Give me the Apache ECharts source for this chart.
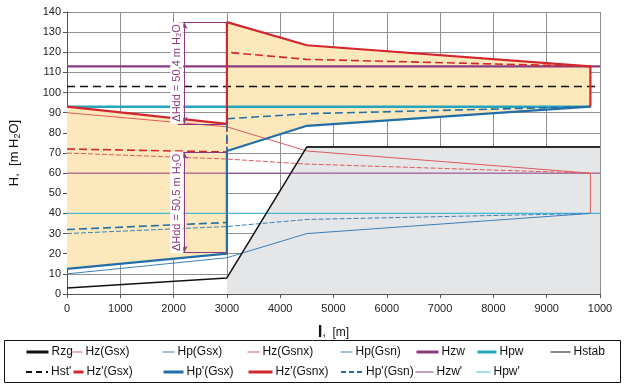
<!DOCTYPE html>
<html>
<head>
<meta charset="utf-8">
<script src="https://cdn.jsdelivr.net/npm/echarts@6/dist/echarts.min.js"></script>
<style>
  html, body { margin: 0; padding: 0; background: #fff; }
  #chart { width: 626px; height: 387px; }
</style>
</head>
<body>
<div id="chart"></div>
<script>
// axis ticks (the last x label is cut in the source picture)
const xTickLabels = ['0', '1000', '2000', '3000', '4000', '5000', '6000', '7000', '8000', '9000', '1000'];
const yTickLabels = ['0', '10', '20', '30', '40', '50', '60', '70', '80', '90', '100', '110', '120', '130', '140'];

// terrain
const rzgX = [0, 3000, 4500, 10000];
const rzgY = [3, 8, 73, 73];
const hstabX = [4500, 10000];
const hstabY = [73, 73];

// heads, primed (thick) lines
const hzGsxPX = [0, 3000, 3000, 4500, 9820, 9820];
const hzGsxPY = [93, 84.5, 135, 123.5, 113, 93];
const hpGsxPX = [0, 3000, 3000, 4500, 9820];
const hpGsxPY = [12.5, 20, 71, 83.5, 93];
const hzGsnxPX = [0, 3000, 3000, 4500, 9820];
const hzGsnxPY = [72, 70.5, 120, 116.5, 113];
const hpGsnPX = [0, 3000, 3000, 4500, 9820];
const hpGsnPY = [32, 35.5, 87, 89.5, 93];

// heads, thin lines
const hzGsxX = [0, 3000, 4500, 9820, 9820];
const hzGsxY = [90, 83, 71, 60, 40];
const hzGsnxX = [0, 3000, 4500, 9820];
const hzGsnxY = [70, 67, 64.5, 60];
const hpGsxX = [0, 3000, 4500, 9820];
const hpGsxY = [10, 18, 30, 40];
const hpGsnX = [0, 3000, 4500, 9820];
const hpGsnY = [30, 33.5, 37, 40];

// horizontal levels
const hzwX = [0, 10000], hzwY = [113, 113];
const hzwPX = [0, 10000], hzwPY = [60, 60];
const hpwX = [0, 9820], hpwY = [93, 93];
const hpwPX = [0, 10000], hpwPY = [40, 40];
const hstPX = [0, 10000], hstPY = [103, 103];

// pressure difference marks
const annX = 2200;
const annFromX = 2080;
const annUpper = [84.5, 135];
const annLower = [20.5, 70.5];
const annLabels = ['ΔHdd = 50,4 m H₂O', 'ΔHdd = 50,5 m H₂O'];

const font = 'Liberation Sans, Arial, sans-serif';
const pts = (xs, ys) => xs.map((x, i) => [x, ys[i]]);

const RED = '#d3262f', RED_T = '#dd5a5e', BLUE = '#226ea8', BLUE_T = '#3d7fba';
const PURPLE = '#8b3a80', CYAN = '#25a5bd', CYAN_T = '#45b8d4';

function line(name, xs, ys, color, width, type, z) {
  return {
    type: 'line', name, data: pts(xs, ys), symbol: 'none', z: z || 3,
    lineStyle: { color, width, type: type || 'solid' }, itemStyle: { color },
    silent: true
  };
}

const annLabel = txt => ({
  show: true, position: 'middle', formatter: txt, color: PURPLE, fontFamily: font,
  fontSize: 11, backgroundColor: '#fff', padding: [1, 2], distance: 1
});

const annotSeries = line('annot', [], [], PURPLE, 1);
annotSeries.markLine = {
  silent: true, symbol: 'none', animation: false,
  lineStyle: { color: PURPLE, width: 1, type: 'solid' },
  label: { show: false },
  data: [
    [{ coord: [annFromX, annUpper[1]] }, { coord: [3000, annUpper[1]] }],
    [{ coord: [annFromX, annUpper[0]] }, { coord: [3000, annUpper[0]] }],
    [{ coord: [annFromX, annLower[1]] }, { coord: [3000, annLower[1]] }],
    [{ coord: [annFromX, annLower[0]] }, { coord: [3000, annLower[0]] }],
    [{ coord: [annX, annUpper[0]], symbol: 'arrow' }, { coord: [annX, annUpper[1]], symbol: 'arrow', label: annLabel(annLabels[0]) }],
    [{ coord: [annX, annLower[0]], symbol: 'arrow' }, { coord: [annX, annLower[1]], symbol: 'arrow', label: annLabel(annLabels[1]) }]
  ],
  symbolSize: [5, 7]
};

const series = [
  {
    type: 'line', name: 'ground', data: pts(rzgX.slice(1), rzgY.slice(1)), symbol: 'none', z: 0,
    lineStyle: { width: 0 }, areaStyle: { color: '#e5e6e8', opacity: 1 }, silent: true
  },
  {
    type: 'custom', name: 'band', data: [[0, 0]], z: 1, silent: true,
    renderItem(params, api) {
      const up = pts(hzGsxPX, hzGsxPY).map(p => api.coord(p));
      const lo = pts(hpGsxPX, hpGsxPY).reverse().map(p => api.coord(p));
      return { type: 'polygon', shape: { points: up.concat(lo) }, style: { fill: '#fde8bb' } };
    }
  },
  line('Hzw\'', hzwPX, hzwPY, PURPLE, 1),
  line('Hpw\'', hpwPX, hpwPY, CYAN_T, 1.2),
  line('Hz(Gsnx)', hzGsnxX, hzGsnxY, RED_T, 1, [5, 2]),
  line('Hp(Gsn)', hpGsnX, hpGsnY, BLUE_T, 1, [5, 2]),
  line('Hz(Gsx)', hzGsxX, hzGsxY, RED_T, 1),
  line('Hp(Gsx)', hpGsxX, hpGsxY, BLUE_T, 1),
  line('Hzw', hzwX, hzwY, PURPLE, 2.2),
  line('Hpw', hpwX, hpwY, CYAN, 2.5),
  line('Hst\'', hstPX, hstPY, '#111', 1.5, [8, 5]),
  line('Hz\'(Gsnx)', hzGsnxPX, hzGsnxPY, RED, 1.6, [8, 4]),
  line('Hp\'(Gsn)', hpGsnPX, hpGsnPY, BLUE, 1.6, [8, 4]),
  line('Hp\'(Gsx)', hpGsxPX, hpGsxPY, BLUE, 2.2),
  line('Hz\'(Gsx)', hzGsxPX, hzGsxPY, RED, 2.2),
  line('Hstab', hstabX, hstabY, '#111', 1),
  line('Rzg', rzgX, rzgY, '#111', 1.5, 'solid', 4),
  annotSeries
];

// legend placement: [name, iconLeft, row, iconWidth, iconLineWidth, iconType]
const legendLayout = [
  ['Rzg', 25, 0, 22, 3, 'solid'], ['Hz(Gsx)', 72, 0, 10, 1, 'solid'], ['Hp(Gsx)', 162, 0, 12, 1, 'solid'],
  ['Hz(Gsnx)', 247, 0, 12, 1, 'solid'], ['Hp(Gsn)', 340, 0, 12, 1, 'solid'], ['Hzw', 415, 0, 22, 3, 'solid'],
  ['Hpw', 476, 0, 19, 3, 'solid'], ['Hstab', 550, 0, 20, 1, 'solid'],
  ['Hst\'', 25, 1, 22, 2, [6, 4]], ['Hz\'(Gsx)', 72, 1, 10, 3, 'solid'], ['Hp\'(Gsx)', 162, 1, 20, 3, 'solid'],
  ['Hz\'(Gsnx)', 247, 1, 24, 3, 'solid'], ['Hp\'(Gsn)', 340, 1, 22, 2, [5, 3]], ['Hzw\'', 415, 1, 18, 1, 'solid'],
  ['Hpw\'', 476, 1, 14, 1, 'solid']
];
const legends = legendLayout.map(([name, left, row, w, lw, t]) => ({
  data: [{ name, lineStyle: { width: lw, type: t }, itemStyle: { opacity: 0, color: 'rgba(0,0,0,0)', borderWidth: 0 } }],
  left, top: row === 0 ? 346 : 366, itemWidth: w, itemHeight: 10, padding: 0, itemGap: 0,
  selectedMode: false, textStyle: { fontFamily: font, fontSize: 12, color: '#111', padding: [0, 0, 0, -2] }
}));

const chart = echarts.init(document.getElementById('chart'), null, { renderer: 'canvas' });
chart.setOption({
  animation: false,
  backgroundColor: '#fff',
  grid: { left: 59, top: 12, width: 541, height: 282, containLabel: false },
  xAxis: {
    type: 'value', min: 0, max: 10000, interval: 1000,
    name: '{b|l},  [m]', nameLocation: 'middle', nameGap: 30,
    nameTextStyle: { fontFamily: font, color: '#111', rich: { b: { fontSize: 17, fontWeight: 'bold', fontFamily: font } }, fontSize: 12 },
    axisLine: { show: true, onZero: false, lineStyle: { color: '#555' } },
    axisTick: { show: true, length: 4, lineStyle: { color: '#555' } },
    splitLine: { show: true, lineStyle: { color: '#8f8f8f', width: 1 } },
    axisLabel: { fontFamily: font, fontSize: 11, color: '#222', margin: 9,
                 formatter: v => xTickLabels[Math.round(v / 1000)] }
  },
  yAxis: {
    type: 'value', min: 0, max: 140, interval: 10,
    name: 'H,  [m H{s|2}O]', nameLocation: 'middle', nameGap: 45,
    nameTextStyle: { fontFamily: font, fontSize: 13, color: '#111', rich: { s: { fontSize: 9, padding: [6, 0, 0, 0], fontFamily: font } } },
    axisLine: { show: true, lineStyle: { color: '#555' } },
    axisTick: { show: true, length: 4, lineStyle: { color: '#555' } },
    splitLine: { show: true, lineStyle: { color: '#8f8f8f', width: 1 } },
    axisLabel: { fontFamily: font, fontSize: 11, color: '#222', margin: 6,
                 formatter: v => yTickLabels[Math.round(v / 10)] }
  },
  legend: legends,
  graphic: [{
    type: 'rect', shape: { x: 4.5, y: 340.5, width: 616, height: 42 },
    style: { fill: null, stroke: '#111', lineWidth: 1 }, silent: true, z: 100
  }],
  series
});
</script>
</body>
</html>
